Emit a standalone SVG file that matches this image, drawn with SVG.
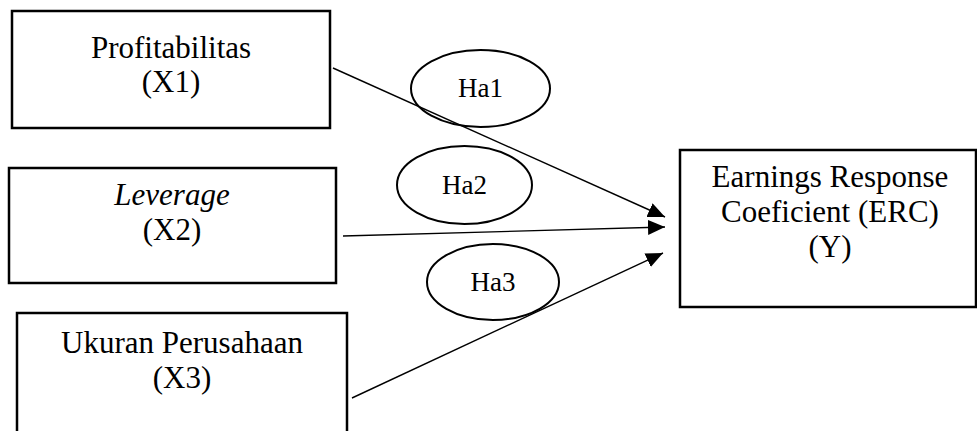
<svg xmlns="http://www.w3.org/2000/svg" width="977" height="431" viewBox="0 0 977 431">
<style>
.box{fill:#fff;stroke:#000;stroke-width:2.5}
.ell{fill:none;stroke:#000;stroke-width:2}
.t{font-family:"Liberation Serif","Times New Roman",serif;font-size:31px;fill:#000;text-anchor:middle}
.h{font-family:"Liberation Serif","Times New Roman",serif;font-size:27px;fill:#000;text-anchor:middle}
.c{stroke:#000;stroke-width:1.4;fill:none;marker-end:url(#ah)}
</style>
<defs>
<marker id="ah" markerUnits="userSpaceOnUse" markerWidth="18" markerHeight="16" refX="17" refY="7.5" orient="auto">
<path d="M0,0 L17,7.5 L0,15 z" fill="#000"/>
</marker>
</defs>
<rect width="977" height="431" fill="#fff"/>
<g id="x1">
<rect class="box" x="12" y="11" width="318" height="117"/>
<text class="t" x="171" y="58">Profitabilitas</text>
<text class="t" x="171" y="92">(X1)</text>
</g>
<g id="x2">
<rect class="box" x="9" y="168" width="327" height="115"/>
<text class="t" x="172" y="205" font-style="italic">Leverage</text>
<text class="t" x="172" y="240">(X2)</text>
</g>
<g id="x3">
<rect class="box" x="17" y="313" width="330" height="130"/>
<text class="t" x="182" y="353">Ukuran Perusahaan</text>
<text class="t" x="182" y="388">(X3)</text>
</g>
<g id="y">
<rect class="box" x="680" y="150" width="296" height="157"/>
<text class="t" x="830" y="187">Earnings Response</text>
<text class="t" x="830" y="222">Coeficient (ERC)</text>
<text class="t" x="830" y="257">(Y)</text>
</g>
<g id="connectors">
<line class="c" x1="333" y1="68" x2="665" y2="217"/>
<line class="c" x1="343" y1="236" x2="665" y2="227"/>
<line class="c" x1="352" y1="398" x2="663" y2="253"/>
</g>
<g id="ha1">
<ellipse class="ell" cx="480.5" cy="88.5" rx="69.5" ry="38.5"/>
<text class="h" x="480.5" y="97">Ha1</text>
</g>
<g id="ha2">
<ellipse class="ell" cx="464.5" cy="185" rx="67.5" ry="39"/>
<text class="h" x="464.5" y="194">Ha2</text>
</g>
<g id="ha3">
<ellipse class="ell" cx="493" cy="282" rx="66" ry="38"/>
<text class="h" x="493" y="291">Ha3</text>
</g>
</svg>
